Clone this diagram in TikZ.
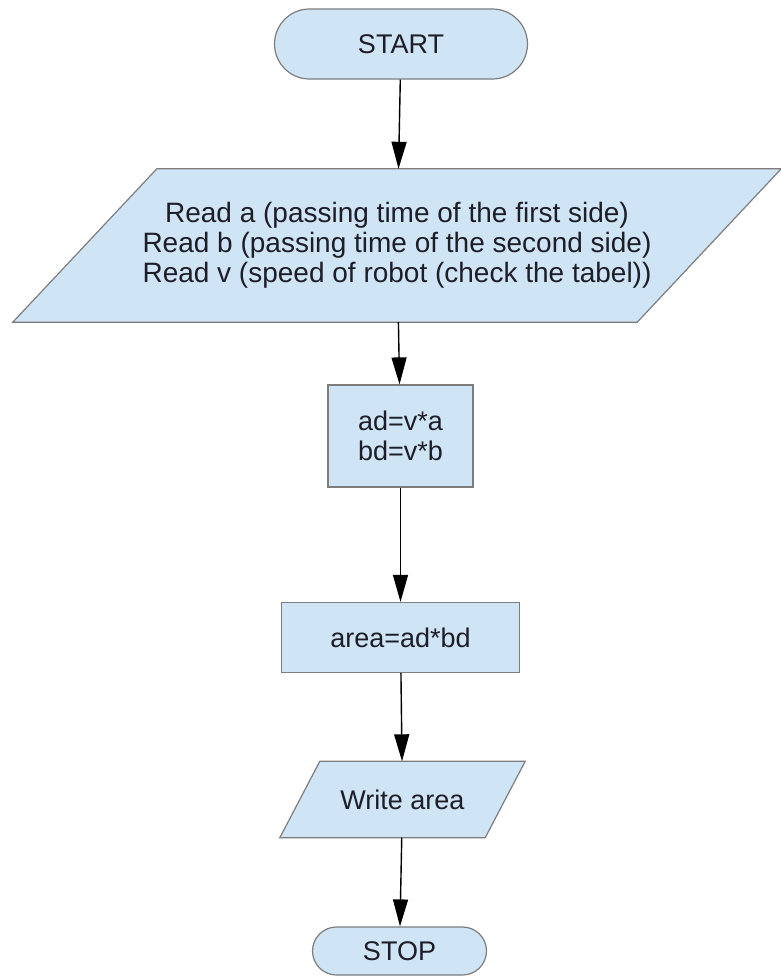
\documentclass[tikz,border=0pt]{standalone}
\usepackage{fontspec}
\setmainfont{Liberation Sans}
\usepackage{tikz}
\usetikzlibrary{arrows.meta,positioning,backgrounds}
\usepackage{xcolor}
\definecolor{cajaazul}{RGB}{207,228,245}
\definecolor{bordegris}{RGB}{125,125,125}
\definecolor{textonegro}{RGB}{30,30,40}

\begin{document}
\begin{tikzpicture}[x=1pt, y=-1pt, node distance=190pt, on grid, >={Triangle[length=27pt,width=15pt]}]

    % Estilos para los nodos
    \tikzstyle{terminal}=[rectangle, draw=bordegris, fill=cajaazul, line width=1.2pt, text=textonegro, font=\fontsize{27}{30}\selectfont]
    \tikzstyle{proceso}=[rectangle, draw=bordegris, fill=cajaazul, line width=1.2pt, text=textonegro, align=center, font=\fontsize{27}{30}\selectfont]
    \tikzstyle{datos}=[rectangle, inner sep=0pt, text=textonegro, align=center, font=\fontsize{27}{30}\selectfont]
    \tikzstyle{paralelo}=[draw=bordegris, fill=cajaazul, line width=1.2pt]
    \tikzstyle{flecha}=[->, line width=1.4pt, black]

    \useasboundingbox (0,0) rectangle (781,977);

    % Definición de los nodos
    \node[terminal, minimum width=253pt, minimum height=70pt, rounded corners=35pt] (start) at (401,44) {START};
    \node[datos, minimum width=624pt, minimum height=153pt, font=\fontsize{28}{30}\selectfont] (read) [below=201.5pt of start, xshift=-4pt]
        {Read a (passing time of the first side)\\Read b (passing time of the second side)\\Read v (speed of robot (check the tabel))};
    \node[proceso, minimum width=145pt, minimum height=102pt] (ad) [below=190.5pt of read, xshift=3.5pt] {ad=v*a\\bd=v*b};
    \node[proceso, minimum width=238pt, minimum height=70pt] (area) [below=201.5pt of ad] {area=ad*bd};
    \node[datos, minimum width=205pt, minimum height=76pt] (write) [below=162pt of area, xshift=2pt] {Write area};
    \node[terminal, minimum width=174pt, minimum height=48pt, rounded corners=24pt] (stop) [below=151.5pt of write, xshift=-3pt] {STOP};

    % Paralelogramos de entrada y salida
    \begin{scope}[on background layer]
        \draw[paralelo] ([xshift=72pt]read.north west) -- ([xshift=72pt]read.north east)
            -- ([xshift=-72pt]read.south east) -- ([xshift=-72pt]read.south west) -- cycle;
        \draw[paralelo] ([xshift=20pt]write.north west) -- ([xshift=20pt]write.north east)
            -- ([xshift=-20pt]write.south east) -- ([xshift=-20pt]write.south west) -- cycle;
    \end{scope}

    % Flechas entre los nodos
    \path[flecha]
        (start) edge (read)
        (read) edge (ad)
        (ad) edge (area)
        (area) edge (write)
        (write) edge (stop);
\end{tikzpicture}
\end{document}
